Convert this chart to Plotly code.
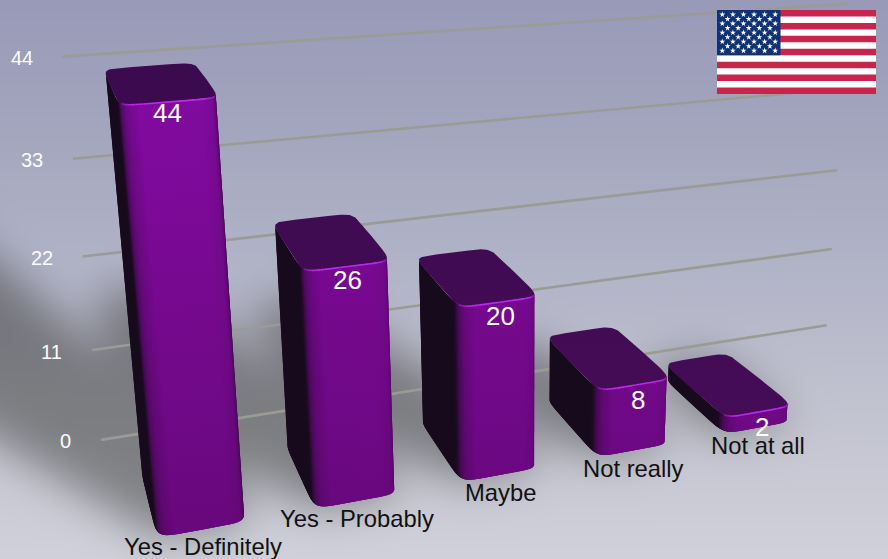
import base64
import struct
import zlib

import numpy as np
import plotly.graph_objects as go

# Chart content
CATEGORIES = ["Yes - Definitely", "Yes - Probably", "Maybe", "Not really", "Not at all"]
VALUES = [44, 26, 20, 8, 2]
TICK_VALUES = [0, 11, 22, 33, 44]

# Canvas and the perspective camera (world x = category slot, y = value, z = depth)
WIDTH, HEIGHT = 888, 559
CAMERA = np.array([
    [169.913031, -1.119713, -3.523602, 157.374464],
    [-9.061503, -10.032752, -26.281172, 537.299883],
    [0.038966, -0.002121, 0.09986, 1.0],
])
BAR_WIDTH = 0.56
WALL_Z = 1.47
GRID_X = (-0.22, 5.78)
CORNER_POWER = 8.0

FONT = "Liberation Sans"


def project(x, y, z):
    h = CAMERA @ np.array([x, y, z, 1.0])
    return h[0] / h[2], h[1] / h[2]


def lerp(a, b, t):
    return tuple(p + (q - p) * t for p, q in zip(a, b))


def css(c):
    return "rgb(%d,%d,%d)" % tuple(int(round(v)) for v in c)


def section_point(i, t):
    """Point and outward normal on the rounded footprint of bar i."""
    c, s = np.cos(t), np.sin(t)
    e = 2.0 / CORNER_POWER
    X = np.sign(c) * abs(c) ** e
    Z = np.sign(s) * abs(s) ** e
    nx = np.sign(X) * abs(X) ** (CORNER_POWER - 1)
    nz = np.sign(Z) * abs(Z) ** (CORNER_POWER - 1)
    norm = np.hypot(nx, nz) or 1.0
    x = i + BAR_WIDTH / 2 + X * BAR_WIDTH / 2 * 1.01
    z = 0.5 + Z * 0.5 * 1.01
    return x, z, nx / norm, nz / norm


# ---- backdrop: vertical wash plus the soft shadows the bars throw across the floor
def convex_hull(points):
    pts = sorted(set(points))

    def half(seq):
        out = []
        for p in seq:
            while len(out) >= 2 and (out[-1][0] - out[-2][0]) * (p[1] - out[-2][1]) - (out[-1][1] - out[-2][1]) * (p[0] - out[-2][0]) <= 0:
                out.pop()
            out.append(p)
        return out[:-1]

    return half(pts) + half(pts[::-1])


def backdrop():
    pad = 90
    yy, xx = np.mgrid[-pad:HEIGHT + pad, -pad:WIDTH + pad].astype(float)
    mask = np.zeros(xx.shape, bool)
    for i, v in enumerate(VALUES):
        foot = [(i, 0), (i + BAR_WIDTH, 0), (i, 1), (i + BAR_WIDTH, 1)]
        far = [(a - 0.04 * v, b + (0.075 + 0.055 * b) * v) for a, b in foot]
        poly = convex_hull([project(a, 0, b) for a, b in foot + far])
        inside = np.ones(xx.shape, bool)
        for (x0, y0), (x1, y1) in zip(poly, poly[1:] + poly[:1]):
            inside &= (x1 - x0) * (yy - y0) - (y1 - y0) * (xx - x0) >= 0
        mask |= inside
    fy = np.fft.fftfreq(xx.shape[0])[:, None]
    fx = np.fft.rfftfreq(xx.shape[1])[None, :]
    sigma = 21.0
    kernel = np.exp(-2 * (np.pi * sigma) ** 2 * (fx ** 2 + fy ** 2))
    soft = np.fft.irfft2(np.fft.rfft2(mask.astype(float)) * kernel, s=xx.shape)
    soft = np.clip(soft, 0, 1)[pad:-pad, pad:-pad]

    stops_y = [0, 150, 280, 400, HEIGHT]
    wash = np.stack([
        np.interp(np.arange(HEIGHT), stops_y, [152, 166, 179, 194, 208]),
        np.interp(np.arange(HEIGHT), stops_y, [154, 168, 181, 195, 209]),
        np.interp(np.arange(HEIGHT), stops_y, [184, 192, 200, 208, 218]),
    ], axis=1)[:, None, :].repeat(WIDTH, axis=1)
    tint = np.array([0.64, 0.64, 0.62])
    rgb = wash * (1 - soft[..., None] * (1 - tint))
    return np.clip(rgb, 0, 255).astype(np.uint8)


def png_uri(rgb):
    h, w, _ = rgb.shape
    raw = b"".join(b"\x00" + rgb[r].tobytes() for r in range(h))

    def chunk(tag, body):
        return struct.pack(">I", len(body)) + tag + body + struct.pack(">I", zlib.crc32(tag + body))

    data = b"\x89PNG\r\n\x1a\n" + chunk(b"IHDR", struct.pack(">IIBBBBB", w, h, 8, 2, 0, 0, 0)) + chunk(b"IDAT", zlib.compress(raw, 6)) + chunk(b"IEND", b"")
    return "data:image/png;base64," + base64.b64encode(data).decode()


fig = go.Figure()


def polygon(xs, ys, color=None, gradient=None):
    kw = dict(fillgradient=gradient) if gradient else dict(fillcolor=color)
    fig.add_trace(go.Scatter(x=list(xs), y=list(ys), mode="lines", fill="toself",
                             line=dict(width=0), hoverinfo="skip", **kw))


# ---- wall gridlines
for v in TICK_VALUES:
    a = project(GRID_X[0], v, WALL_Z)
    b = project(GRID_X[1], v, WALL_Z)
    fig.add_trace(go.Scatter(x=[a[0], b[0]], y=[a[1], b[1]], mode="lines",
                             line=dict(color="#9b9b95", width=2.6), hoverinfo="skip"))

# ---- bars, far ones first so that nearer bars cover them
SIDE_DARK = (23, 10, 28)
FRONT_HI = (130, 10, 160)
FRONT_LO = (104, 8, 124)
TOP_HI = (60, 10, 78)
TOP_LO = (72, 13, 90)
RIM = (190, 40, 240)


def by_screen(hi, lo, y):
    return lerp(hi, lo, np.clip((y - 100) / 430, 0, 1))


for i in reversed(range(len(VALUES))):
    v = VALUES[i]
    angles = np.radians(np.arange(100, 356, 5.0))
    ring = [section_point(i, t) for t in angles]
    base = [project(x, 0, z) for x, z, _, _ in ring]
    head = [project(x, v, z) for x, z, _, _ in ring]

    # keep only the wall segments that face the camera
    strips = []
    for k in range(len(ring) - 1):
        (x0, y0), (x1, y1) = base[k], base[k + 1]
        (hx, hy) = head[k]
        if (x1 - x0) * (hy - y0) - (y1 - y0) * (hx - x0) < 0:
            strips.append(k)

    for pos, k in enumerate(strips):
        m = strips[pos + 2] + 1 if pos + 2 < len(strips) else strips[-1] + 1
        nz = 0.5 * (ring[k][3] + ring[k + 1][3])
        shade = float(np.interp(max(-nz, 0), [0, 0.2, 0.5, 0.95], [0, 0.05, 0.65, 1]))
        # the front face falls off slightly towards its rounded edges
        offset = (0.5 * (ring[k][0] + ring[k + 1][0]) - (i + BAR_WIDTH / 2)) / (BAR_WIDTH / 2)
        shade *= float(np.interp(offset, [-1, -0.6, 0.6, 1], [0.72, 1, 1, 0.88]))
        xs = [base[j][0] for j in range(k, m + 1)] + [head[j][0] for j in range(m, k - 1, -1)]
        ys = [base[j][1] for j in range(k, m + 1)] + [head[j][1] for j in range(m, k - 1, -1)]
        y0, y1 = min(ys), max(ys)
        c0 = lerp(SIDE_DARK, by_screen(FRONT_HI, FRONT_LO, y0), shade)
        c1 = lerp(SIDE_DARK, by_screen(FRONT_HI, FRONT_LO, y1), shade)
        polygon(xs, ys, gradient=dict(type="vertical", start=y0, stop=y1,
                                      colorscale=[[0, css(c0)], [1, css(c1)]]))

    # flat top, all the way round the footprint
    full = [section_point(i, t) for t in np.radians(np.arange(0, 360, 4.0))]
    top = [project(x, v, z) for x, z, _, _ in full]
    xs, ys = zip(*top)
    polygon(xs + xs[:1], ys + ys[:1], gradient=dict(
        type="vertical", start=min(ys), stop=max(ys),
        colorscale=[[0, css(by_screen(TOP_HI, TOP_LO, min(ys)))], [1, css(by_screen(TOP_HI, TOP_LO, max(ys)))]]))

    # thin bright lip along the front top edge
    lip = [section_point(i, t) for t in np.radians(np.arange(222, 322, 4.0))]
    for a, b in zip(lip, lip[1:]):
        mid = 0.5 * (a[0] + b[0])
        edge = abs(mid - (i + BAR_WIDTH / 2)) / (BAR_WIDTH / 2)
        fade = float(np.interp(edge, [0, 0.75, 1.0], [1, 1, 0.15]))
        pa, pb = project(a[0], v, a[1]), project(b[0], v, b[1])
        col = lerp(by_screen(FRONT_HI, FRONT_LO, pa[1]), RIM, fade)
        fig.add_trace(go.Scatter(x=[pa[0], pb[0]], y=[pa[1], pb[1]], mode="lines",
                                 line=dict(color=css(col), width=1.6), hoverinfo="skip"))

# ---- flag in the top right corner
FLAG_X = (717.0, 876.0)
FLAG_Y = (10.0, 94.0)
STRIPE_COUNT = 13
CANTON_COLOR = "#0e3274"
RED = "#c8254c"
stripe_h = (FLAG_Y[1] - FLAG_Y[0]) / STRIPE_COUNT
polygon([FLAG_X[0], FLAG_X[1], FLAG_X[1], FLAG_X[0], FLAG_X[0]],
        [FLAG_Y[0], FLAG_Y[0], FLAG_Y[1], FLAG_Y[1], FLAG_Y[0]], color="#ffffff")
for s in range(0, STRIPE_COUNT, 2):
    t, b = FLAG_Y[0] + s * stripe_h, FLAG_Y[0] + (s + 1) * stripe_h
    polygon([FLAG_X[0], FLAG_X[1], FLAG_X[1], FLAG_X[0], FLAG_X[0]], [t, t, b, b, t], color=RED)
canton_r = FLAG_X[0] + 63.5
canton_b = FLAG_Y[0] + 7 * stripe_h
polygon([FLAG_X[0], canton_r, canton_r, FLAG_X[0], FLAG_X[0]],
        [FLAG_Y[0], FLAG_Y[0], canton_b, canton_b, FLAG_Y[0]], color=CANTON_COLOR)
star_x, star_y = [], []
for row in range(9):
    for col in range(6 if row % 2 == 0 else 5):
        star_x.append(FLAG_X[0] + (col + (0.5 if row % 2 == 0 else 1.0)) * 63.5 / 6)
        star_y.append(FLAG_Y[0] + (row + 1) * (canton_b - FLAG_Y[0]) / 10)
fig.add_trace(go.Scatter(x=star_x, y=star_y, mode="markers", hoverinfo="skip",
                         marker=dict(symbol="star", size=4.5, color="#ffffff", line=dict(width=0))))

# ---- text
notes = []
for v in TICK_VALUES:
    x, y = project(GRID_X[0], v, WALL_Z)
    notes.append(dict(x=x - 27.5, y=y + 1.5, text=str(v), xanchor="right", yanchor="middle",
                      font=dict(family=FONT, size=20, color="#fbfbfd"), showarrow=False))
for i, (name, v) in enumerate(zip(CATEGORIES, VALUES)):
    x, y = project(i + BAR_WIDTH / 2, 0, 0)
    notes.append(dict(x=x, y=y + 18, text=name, xanchor="center", yanchor="middle",
                      font=dict(family=FONT, size=23.8, color="#111111"), showarrow=False))
for i, v in enumerate(VALUES):
    x, y = project(i + BAR_WIDTH / 2, v, 0)
    notes.append(dict(x=x + 3.5 - 0.13 * v, y=y + 16 - 0.1 * v, text=str(v), xanchor="center", yanchor="middle",
                      font=dict(family=FONT, size=26, color="#ffffff"), showarrow=False))

fig.update_layout(
    width=WIDTH, height=HEIGHT, autosize=False,
    margin=dict(l=0, r=0, t=0, b=0, pad=0),
    paper_bgcolor="#b5b7ca", plot_bgcolor="rgba(0,0,0,0)",
    showlegend=False,
    xaxis=dict(range=[0, WIDTH], visible=False, fixedrange=True),
    yaxis=dict(range=[HEIGHT, 0], visible=False, fixedrange=True),
    annotations=notes,
    images=[dict(source=png_uri(backdrop()), xref="x", yref="y", x=0, y=0,
                 sizex=WIDTH, sizey=HEIGHT, sizing="stretch", xanchor="left", yanchor="top", layer="below")],
)
fig.write_html("out.html")
